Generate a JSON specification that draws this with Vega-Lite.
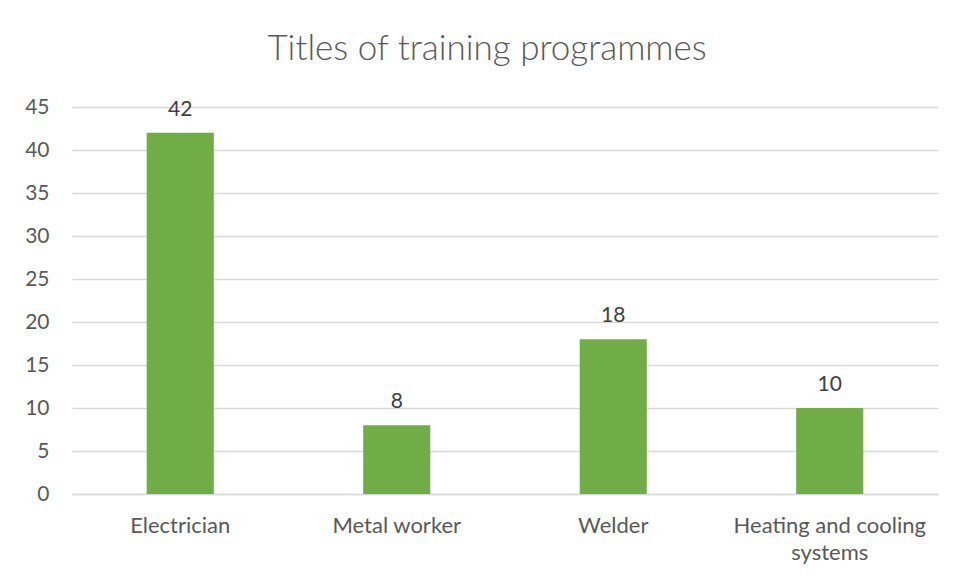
{
  "$schema": "https://vega.github.io/schema/vega-lite/v6.json",
  "autosize": {"type": "none"},
  "padding": {"left": 72, "top": 107, "right": 17, "bottom": 87},
  "width": 866,
  "height": 387,
  "background": "white",
  "title": {
    "text": "Titles of training programmes",
    "font": "Lato",
    "fontWeight": 300,
    "fontSize": 35,
    "color": "#595959",
    "anchor": "middle",
    "dx": -18,
    "offset": 29
  },
  "data": {
    "values": [
      {"programme": "Electrician", "count": 42},
      {"programme": "Metal worker", "count": 8},
      {"programme": "Welder", "count": 18},
      {"programme": "Heating and cooling systems", "count": 10}
    ]
  },
  "encoding": {
    "x": {
      "field": "programme",
      "type": "nominal",
      "sort": null,
      "scale": {"paddingInner": 0.69, "paddingOuter": 0.345},
      "axis": {
        "title": null,
        "labelAngle": 0,
        "labelFont": "Lato",
        "labelFontSize": 22,
        "labelColor": "#595959",
        "labelPadding": 21,
        "labelLineHeight": 27,
        "labelLimit": 400,
        "labelExpr": "datum.value == 'Heating and cooling systems' ? ['Heating and cooling', 'systems'] : datum.value",
        "ticks": false,
        "domainColor": "#D9D9D9",
        "domainWidth": 1.5,
        "grid": false
      }
    },
    "y": {
      "field": "count",
      "type": "quantitative",
      "scale": {"domain": [0, 45]},
      "axis": {
        "title": null,
        "values": [0, 5, 10, 15, 20, 25, 30, 35, 40, 45],
        "labelFont": "Lato",
        "labelFontSize": 21,
        "labelColor": "#595959",
        "labelPadding": 23,
        "ticks": false,
        "domain": false,
        "gridColor": "#D9D9D9",
        "gridWidth": 1.5
      }
    }
  },
  "layer": [
    {"mark": {"type": "bar", "color": "#70AD47"}},
    {
      "mark": {"type": "text", "baseline": "alphabetic", "dy": -17, "font": "Lato", "fontSize": 21, "color": "#404040"},
      "encoding": {"text": {"field": "count", "type": "quantitative"}}
    }
  ],
  "config": {"view": {"stroke": null}}
}
